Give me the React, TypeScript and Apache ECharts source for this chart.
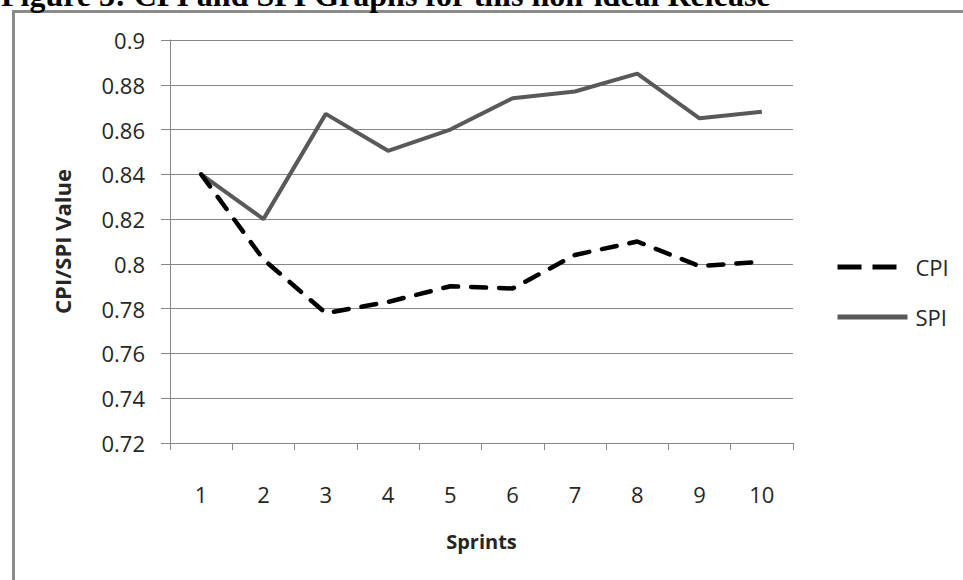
import React, { useEffect, useRef } from "react";
import * as echarts from "echarts";

const sprints = ["1", "2", "3", "4", "5", "6", "7", "8", "9", "10"];
const cpiValues = [0.84, 0.802, 0.778, 0.783, 0.79, 0.789, 0.804, 0.81, 0.799, 0.801];
const spiValues = [0.84, 0.82, 0.867, 0.8505, 0.86, 0.874, 0.877, 0.885, 0.865, 0.868];
const titleText = "Figure 3: CPI and SPI Graphs for this non-ideal Release";
const yAxisTitle = "CPI/SPI Value";
const xAxisTitle = "Sprints";

const FONT = "'Open Sans', 'Liberation Sans', sans-serif";
const GRAY = "#878787";
const TEXT = "#262626";

export default function App() {
  const ref = useRef<HTMLDivElement>(null);
  useEffect(() => {
    if (!ref.current) return;
    const chart = echarts.init(ref.current, null, { renderer: "svg" });
    chart.setOption({
      animation: false,
      backgroundColor: "#ffffff",
      textStyle: { fontFamily: FONT },
      grid: { left: 170, right: 170, top: 40, bottom: 137, containLabel: false },
      graphic: [
        {
          type: "rect",
          shape: { x: 13.5, y: 11.5, width: 1200, height: 1200 },
          style: { fill: "none", stroke: "#8a8a8a", lineWidth: 3 },
          z: 0,
        },
        {
          type: "text",
          x: 1,
          y: -5,
          style: {
            text: titleText,
            fontFamily: "'Liberation Serif', 'Times New Roman', serif",
            fontWeight: "bold",
            fontSize: 32,
            fill: "#000",
            textVerticalAlign: "middle",
          },
        },
      ],
      legend: {
        orient: "vertical",
        left: 835,
        top: 256,
        padding: 0,
        itemWidth: 70,
        itemHeight: 14,
        itemGap: 28,
        textStyle: { fontFamily: FONT, fontSize: 22, color: TEXT, padding: [0, 0, 0, 3] },
        data: [
          {
            name: "CPI",
            itemStyle: { color: "rgba(0,0,0,0)", borderWidth: 0, opacity: 0 },
            lineStyle: { type: [24, 11], width: 5, cap: "butt", color: "#000" },
          },
          {
            name: "SPI",
            itemStyle: { color: "rgba(0,0,0,0)", borderWidth: 0, opacity: 0 },
            lineStyle: { width: 5, color: "#595959" },
          },
        ],
      },
      xAxis: {
        type: "category",
        data: sprints,
        boundaryGap: true,
        name: xAxisTitle,
        nameLocation: "middle",
        nameGap: 88,
        nameTextStyle: { fontFamily: FONT, fontWeight: "bold", fontSize: 20, color: TEXT },
        axisLine: { lineStyle: { color: GRAY, width: 1 } },
        axisTick: { show: true, length: 7, lineStyle: { color: GRAY } },
        axisLabel: { margin: 40, fontSize: 22, color: TEXT, fontFamily: FONT },
        splitLine: { show: false },
      },
      yAxis: {
        type: "value",
        min: 0.72,
        max: 0.9,
        interval: 0.02,
        name: yAxisTitle,
        nameLocation: "middle",
        nameGap: 97,
        nameTextStyle: { fontFamily: FONT, fontWeight: "bold", fontSize: 22, color: TEXT },
        axisLine: { show: true, lineStyle: { color: GRAY, width: 1 } },
        axisTick: { show: true, length: 9, lineStyle: { color: GRAY } },
        axisLabel: {
          margin: 25,
          fontSize: 22,
          color: TEXT,
          fontFamily: FONT,
          formatter: (v: number) => String(parseFloat(v.toFixed(2))),
        },
        splitLine: { show: true, lineStyle: { color: GRAY, width: 1 } },
      },
      series: [
        {
          name: "CPI",
          type: "line",
          data: cpiValues,
          symbol: "none",
          lineStyle: { color: "#000", width: 4.5, type: [15, 13], cap: "round" },
          itemStyle: { color: "#000" },
          z: 3,
        },
        {
          name: "SPI",
          type: "line",
          data: spiValues,
          symbol: "none",
          lineStyle: { color: "#595959", width: 4 },
          itemStyle: { color: "#595959" },
          z: 2,
        },
      ],
    });
    return () => chart.dispose();
  }, []);
  return (
    <div
      ref={ref}
      style={{ position: "absolute", left: 0, top: 0, width: 963, height: 580 }}
    />
  );
}
